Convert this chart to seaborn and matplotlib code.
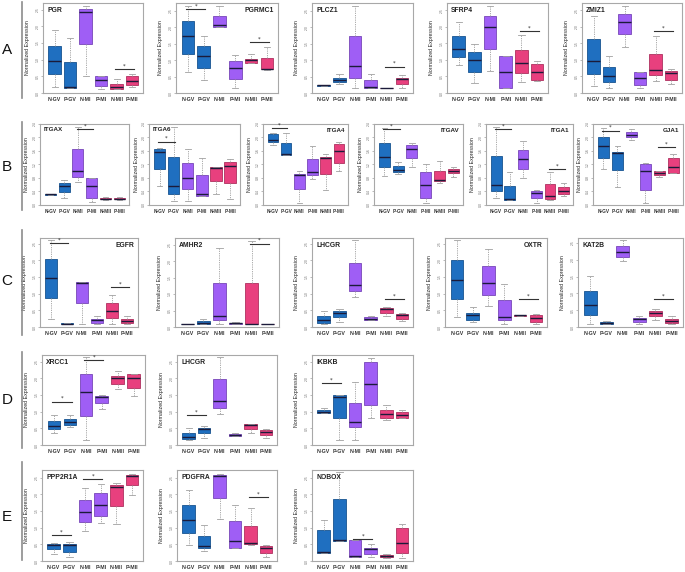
import numpy as np
import pandas as pd
import matplotlib
matplotlib.use("Agg")
import matplotlib.pyplot as plt
import seaborn as sns

stages = ["N-GV", "P-GV", "N-MI", "P-MI", "N-MII", "P-MII"]
stage_colors = {"N-GV": "#1f6fc0", "P-GV": "#1f6fc0", "N-MI": "#9f5ef5",
                "P-MI": "#9f5ef5", "N-MII": "#e8407e", "P-MII": "#e8407e"}

# each gene: six boxes given as [low whisker, Q1, median, Q3, high whisker]
PGR = [[0.18, 0.56, 0.96, 1.42, 1.88], [0.15, 0.16, 0.18, 0.92, 1.65],
       [0.52, 1.47, 2.42, 2.52, 2.62], [0.12, 0.22, 0.40, 0.51, 0.51],
       [0.12, 0.12, 0.18, 0.27, 0.42], [0.18, 0.24, 0.37, 0.52, 0.58]]
PGRMC1 = [[0.64, 1.19, 1.74, 2.19, 2.64], [0.39, 0.76, 1.14, 1.42, 1.74],
          [2.01, 2.01, 2.06, 2.34, 2.64], [0.14, 0.44, 0.77, 0.97, 1.16],
          [0.90, 0.90, 0.99, 1.05, 1.19], [0.71, 0.72, 0.74, 1.07, 1.40]]
PLCZ1 = [[0.20, 0.20, 0.23, 0.25, 0.25], [0.28, 0.33, 0.40, 0.46, 0.59],
         [0.15, 0.47, 0.81, 1.73, 2.65], [0.15, 0.15, 0.19, 0.39, 0.59],
         [0.15, 0.15, 0.15, 0.15, 0.15], [0.15, 0.26, 0.41, 0.47, 0.54]]
SFRP4 = [[0.85, 1.09, 1.32, 1.72, 2.14], [0.30, 0.64, 0.99, 1.24, 1.49],
         [0.66, 1.32, 2.00, 2.32, 2.64], [0.14, 0.14, 0.62, 1.12, 1.12],
         [0.33, 0.61, 0.92, 1.30, 1.74], [0.35, 0.39, 0.62, 0.87, 0.96]]
ZMIZ1 = [[0.22, 0.58, 0.96, 1.64, 2.34], [0.16, 0.34, 0.50, 0.80, 1.12],
         [1.40, 1.78, 2.15, 2.40, 2.64], [0.14, 0.23, 0.45, 0.62, 0.62],
         [0.37, 0.53, 0.69, 1.19, 1.72], [0.27, 0.40, 0.60, 0.68, 0.74]]
ITGAX = [[0.31, 0.31, 0.32, 0.33, 0.33], [0.20, 0.39, 0.55, 0.65, 0.75],
         [0.68, 0.83, 1.00, 1.67, 2.30], [0.10, 0.22, 0.57, 0.80, 0.80],
         [0.15, 0.17, 0.19, 0.21, 0.25], [0.15, 0.17, 0.19, 0.21, 0.25]]
ITGA6 = [[0.55, 1.07, 1.58, 1.65, 1.70], [0.12, 0.33, 0.55, 1.43, 2.30],
         [0.12, 0.47, 0.80, 1.25, 1.67], [0.27, 0.27, 0.33, 0.88, 1.38],
         [0.33, 0.72, 1.10, 1.12, 1.12], [0.18, 0.65, 1.17, 1.28, 1.37]]
ITGA4 = [[1.79, 1.87, 1.94, 2.09, 2.12], [1.49, 1.49, 1.52, 1.85, 2.12],
         [0.07, 0.47, 0.90, 0.92, 1.02], [0.77, 0.90, 0.97, 1.37, 1.76],
         [0.44, 0.92, 1.39, 1.42, 1.52], [1.02, 1.25, 1.61, 1.82, 1.87]]
ITGAV = [[0.87, 1.14, 1.42, 1.84, 2.27], [0.92, 0.97, 1.05, 1.17, 1.27],
         [1.14, 1.40, 1.67, 1.77, 1.84], [0.07, 0.22, 0.59, 0.99, 1.22],
         [0.64, 0.70, 0.75, 1.02, 1.29], [0.84, 0.94, 1.02, 1.07, 1.12]]
ITGA1 = [[0.22, 0.40, 0.60, 1.44, 2.30], [0.15, 0.15, 0.17, 0.57, 0.97],
         [0.79, 1.07, 1.37, 1.64, 1.90], [0.07, 0.20, 0.35, 0.40, 0.44],
         [0.14, 0.19, 0.27, 0.62, 0.97], [0.27, 0.34, 0.42, 0.52, 0.65]]
GJA1 = [[1.07, 1.40, 1.75, 2.00, 2.29], [0.54, 1.04, 1.55, 1.57, 1.75],
        [1.92, 2.00, 2.07, 2.15, 2.24], [0.07, 0.44, 1.02, 1.22, 1.25],
        [0.82, 0.89, 0.95, 1.00, 1.00], [0.94, 0.94, 1.14, 1.40, 1.52]]
EGFR = [[0.25, 0.87, 1.48, 2.05, 2.60], [0.08, 0.08, 0.10, 0.12, 0.12],
        [0.10, 0.72, 1.33, 1.35, 1.35], [0.10, 0.12, 0.20, 0.25, 0.32],
        [0.10, 0.28, 0.49, 0.72, 0.97], [0.10, 0.11, 0.18, 0.25, 0.32]]
AMHR2 = [[0.09, 0.09, 0.09, 0.09, 0.09], [0.09, 0.09, 0.12, 0.18, 0.25],
         [0.09, 0.20, 0.32, 1.35, 2.40], [0.09, 0.09, 0.11, 0.13, 0.15],
         [0.09, 0.09, 0.10, 1.35, 2.60], [0.09, 0.09, 0.10, 0.10, 0.10]]
LHCGR_C = [[0.10, 0.13, 0.22, 0.32, 0.47], [0.15, 0.30, 0.43, 0.47, 0.53],
           [0.90, 1.07, 1.27, 1.93, 2.60], [0.22, 0.22, 0.25, 0.29, 0.32],
           [0.32, 0.42, 0.55, 0.57, 0.60], [0.17, 0.23, 0.35, 0.40, 0.43]]
OXTR = [[0.30, 0.85, 1.40, 2.00, 2.60], [0.14, 0.22, 0.35, 0.43, 0.60],
        [0.62, 0.97, 1.32, 1.82, 2.33], [0.10, 0.20, 0.30, 0.80, 1.30],
        [0.33, 0.33, 0.35, 0.37, 0.37], [0.10, 0.15, 0.27, 0.35, 0.40]]
KAT2B = [[0.09, 0.37, 0.65, 1.08, 1.53], [0.09, 0.09, 0.12, 0.15, 0.18],
         [1.97, 2.08, 2.23, 2.42, 2.60], [0.09, 0.16, 0.23, 0.28, 0.33],
         [0.22, 0.32, 0.41, 0.47, 0.55], [0.09, 0.11, 0.17, 0.25, 0.32]]
XRCC1 = [[0.37, 0.47, 0.58, 0.72, 0.90], [0.54, 0.60, 0.68, 0.78, 0.90],
         [0.15, 0.87, 1.58, 2.12, 2.65], [1.08, 1.25, 1.45, 1.48, 1.50],
         [1.67, 1.82, 2.00, 2.07, 2.22], [1.48, 1.70, 2.02, 2.12, 2.13]]
LHCGR_D = [[0.15, 0.18, 0.23, 0.35, 0.50], [0.20, 0.35, 0.48, 0.52, 0.57],
           [0.92, 1.12, 1.32, 1.98, 2.65], [0.27, 0.27, 0.30, 0.33, 0.37],
           [0.35, 0.48, 0.60, 0.62, 0.62], [0.20, 0.30, 0.38, 0.45, 0.47]]
IKBKB = [[0.95, 0.95, 1.00, 1.05, 1.12], [0.15, 0.80, 1.45, 1.50, 1.50],
         [0.15, 0.55, 0.68, 1.27, 1.90], [0.80, 1.20, 1.83, 2.50, 2.60],
         [0.75, 0.81, 0.93, 1.05, 1.20], [0.80, 0.82, 0.90, 0.99, 1.05]]
PPP2R1A = [[0.22, 0.35, 0.48, 0.51, 0.55], [0.13, 0.28, 0.48, 0.51, 0.58],
           [0.91, 1.18, 1.46, 1.83, 2.18], [1.13, 1.35, 1.68, 2.03, 2.30],
           [1.11, 1.66, 2.21, 2.28, 2.35], [1.98, 2.28, 2.56, 2.58, 2.60]]
PDGFRA = [[0.48, 0.85, 1.23, 1.68, 2.13], [0.30, 0.38, 0.46, 0.76, 1.08],
          [1.26, 1.90, 2.56, 2.58, 2.60], [0.38, 0.40, 0.60, 1.21, 1.68],
          [0.48, 0.50, 0.53, 1.05, 1.60], [0.13, 0.23, 0.38, 0.45, 0.48]]
NOBOX = [[0.24, 0.24, 0.27, 0.93, 1.23], [0.60, 0.60, 0.63, 1.86, 2.67],
         [0.12, 0.12, 0.14, 0.63, 0.63], [0.12, 0.20, 0.35, 0.40, 0.50],
         [0.10, 0.12, 0.15, 0.18, 0.22], [0.10, 0.25, 0.55, 1.00, 1.10]]

# significance brackets: (first stage index, second stage index, height)
SIG = {
    "PGR": [(4, 5, 0.72)], "PGRMC1": [(0, 1, 2.55), (4, 5, 1.55)],
    "PLCZ1": [(4, 5, 0.80)], "SFRP4": [(4, 5, 1.87)], "ZMIZ1": [(4, 5, 1.87)],
    "ITGAX": [(2, 3, 2.25)], "ITGA6": [(0, 1, 1.88)], "ITGA4": [(0, 1, 2.27)],
    "ITGAV": [(0, 1, 2.25)], "ITGA1": [(0, 1, 2.25), (4, 5, 1.07)],
    "GJA1": [(0, 1, 2.20), (4, 5, 1.72)],
    "EGFR": [(0, 1, 2.52), (4, 5, 1.19)], "AMHR2": [(4, 5, 2.52)],
    "LHCGR_C": [(4, 5, 0.83)], "OXTR": [(4, 5, 0.83)], "KAT2B": [(4, 5, 0.83)],
    "XRCC1": [(0, 1, 1.30), (2, 3, 2.55)], "LHCGR_D": [(0, 1, 0.90)],
    "IKBKB": [(0, 1, 1.85)],
    "PPP2R1A": [(0, 1, 0.78), (2, 3, 2.45)], "PDGFRA": [(4, 5, 1.91)],
    "NOBOX": [(2, 3, 0.65)],
}

W, H = 685, 572
fig = plt.figure(figsize=(W / 100, H / 100), dpi=100)
fig.patch.set_facecolor("white")

# layout (pixels): key, title, data, title side, y top, (left, right, top, bottom), label offset
panels = [
    ("PGR", "PGR", PGR, "left", 2.70, (43, 143, 3, 93), 13),
    ("PGRMC1", "PGRMC1", PGRMC1, "right", 2.74, (176, 278, 3, 93), 13),
    ("PLCZ1", "PLCZ1", PLCZ1, "left", 2.73, (312, 413, 3, 93), 13),
    ("SFRP4", "SFRP4", SFRP4, "left", 2.72, (447, 548, 3, 93), 13),
    ("ZMIZ1", "ZMIZ1", ZMIZ1, "left", 2.72, (582, 682, 3, 93), 13),
    ("ITGAX", "ITGAX", ITGAX, "left", 2.40, (40, 129, 124, 205), 11),
    ("ITGA6", "ITGA6", ITGA6, "left", 2.40, (149, 240, 124, 205), 10),
    ("ITGA4", "ITGA4", ITGA4, "right", 2.40, (263, 348, 124, 205), 11),
    ("ITGAV", "ITGAV", ITGAV, "right", 2.40, (374, 463, 124, 205), 11),
    ("ITGA1", "ITGA1", ITGA1, "right", 2.40, (486, 573, 124, 205), 11),
    ("GJA1", "GJA1", GJA1, "right", 2.40, (593, 683, 124, 205), 11),
    ("EGFR", "EGFR", EGFR, "right", 2.67, (40, 138, 238, 327), 13),
    ("AMHR2", "AMHR2", AMHR2, "left", 2.70, (175, 279, 238, 327), 13),
    ("LHCGR_C", "LHCGR", LHCGR_C, "left", 2.67, (312, 413, 238, 327), 13),
    ("OXTR", "OXTR", OXTR, "right", 2.67, (445, 547, 238, 327), 13),
    ("KAT2B", "KAT2B", KAT2B, "left", 2.65, (578, 683, 238, 327), 13),
    ("XRCC1", "XRCC1", XRCC1, "left", 2.70, (42, 145, 355, 445), 13),
    ("LHCGR_D", "LHCGR", LHCGR_D, "left", 2.70, (177, 277, 355, 445), 13),
    ("IKBKB", "IKBKB", IKBKB, "left", 2.70, (312, 413, 355, 445), 13),
    ("PPP2R1A", "PPP2R1A", PPP2R1A, "left", 2.73, (42, 143, 470, 561), 13),
    ("PDGFRA", "PDGFRA", PDGFRA, "left", 2.73, (177, 277, 470, 561), 13),
    ("NOBOX", "NOBOX", NOBOX, "left", 2.73, (312, 413, 470, 561), 13),
]

font = ["Liberation Sans", "DejaVu Sans"]

for key, title, boxes, side, ytop, (l, r, t, b), loff in panels:
    ax = fig.add_axes([l / W, 1 - b / H, (r - l) / W, (b - t) / H])
    df = pd.DataFrame({
        "stage": np.repeat(stages, 5),
        "value": np.concatenate([np.asarray(v, float) for v in boxes]),
    })
    sns.boxplot(data=df, x="stage", y="value", hue="stage", order=stages,
                hue_order=stages, palette=stage_colors, legend=False,
                saturation=1, width=0.8, whis=(0, 100), showfliers=False,
                linewidth=0.6, ax=ax,
                medianprops=dict(color="#1b1b3a", linewidth=1.0),
                whiskerprops=dict(color="#a0a0a0", linewidth=0.6,
                                  linestyle=(0, (1.5, 1.2))),
                capprops=dict(color="#a0a0a0", linewidth=0.6))
    for p in ax.patches:
        fc = np.array(p.get_facecolor())
        p.set_edgecolor(tuple(np.clip(fc[:3] * 0.75, 0, 1)))
    ax.set_xlim(-0.75, 5.7)
    ax.set_ylim(0, ytop)
    ax.set_xlabel("")
    ax.set_ylabel("Normalized Expression", fontsize=3.8, family=font,
                  color="#222222")
    ax.yaxis.set_label_coords(-float(loff) / (r - l), 0.5)
    ax.set_facecolor("white")
    for s in ax.spines.values():
        s.set_color("#a8a8a8")
        s.set_linewidth(0.8)
    ax.tick_params(axis="x", length=0, pad=3)
    ax.tick_params(axis="y", length=1.2, width=0.4, color="#888888",
                   labelsize=2.2, labelcolor="#666666", pad=1)
    ax.yaxis.set_major_locator(matplotlib.ticker.MaxNLocator(6))
    for lab in ax.get_yticklabels():
        lab.set_rotation(90)
        lab.set_va("center")
    xfs = 3.4 if (r - l) < 95 else 3.8
    for lab in ax.get_xticklabels():
        lab.set_fontsize(xfs)
        lab.set_fontweight("bold")
        lab.set_family(font)
        lab.set_color("#333333")
    tfs = 4.5 if (r - l) < 95 else 4.9
    if side == "left":
        ax.text(0.04, 0.96, title, transform=ax.transAxes, ha="left", va="top",
                fontsize=tfs, fontweight="bold", family=font, color="#222222")
    else:
        ax.text(0.96, 0.95, title, transform=ax.transAxes, ha="right",
                va="top", fontsize=tfs, fontweight="bold", family=font,
                color="#222222")
    for i, j, h in SIG.get(key, []):
        ax.plot([i - 0.1, j + 0.1], [h, h], color="#333333", linewidth=0.8)
        ax.text((i + j) / 2, h + ytop * 0.01, "*", ha="center", va="bottom",
                fontsize=3.8, color="#222222")

# row letters and separators
rows = [("A", 50, 2, 98), ("B", 167, 122, 210), ("C", 281, 230, 335),
        ("D", 400, 352, 448), ("E", 517, 462, 560)]
for letter, yc, y0, y1 in rows:
    fig.text(7 / W, 1 - yc / H, letter, ha="center", va="center", fontsize=11,
             family=font, color="#111111")
    fig.add_artist(matplotlib.lines.Line2D([21.5 / W, 21.5 / W],
                                           [1 - y0 / H, 1 - y1 / H],
                                           color="#8c8c8c", linewidth=1.2))

fig.savefig("out.png", dpi=100, facecolor="white")
